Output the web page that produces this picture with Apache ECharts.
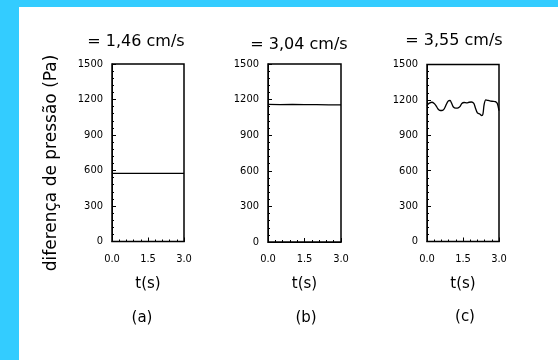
<!DOCTYPE html>
<html>
<head>
<meta charset="utf-8">
<script src="https://cdn.jsdelivr.net/npm/echarts@6/dist/echarts.min.js"></script>
<style>
html,body{margin:0;padding:0;background:#33CCFF;}
#c{width:558px;height:360px;}
</style>
</head>
<body>
<div id="c"></div>
<script>
// ---- data ----
var titles = ['= 1,46 cm/s', '= 3,04 cm/s', '= 3,55 cm/s'];
var panelLabels = ['(a)', '(b)', '(c)'];
var yAxisName = 'diferença de pressão (Pa)';
var xAxisName = 't(s)';
var yTicks = [0, 300, 600, 900, 1200, 1500];
var xTicks = [0, 1.5, 3.0];
var seriesA = [[0, 575], [1.5, 575], [3.0, 575]];
var seriesB = [[0, 1160], [0.5, 1158], [1.0, 1160], [1.5, 1157], [2.0, 1158], [2.5, 1155], [3.0, 1155]];
var seriesC = [[0, 1150], [0.05, 1165], [0.12, 1175], [0.2, 1180], [0.3, 1170], [0.38, 1150], [0.45, 1125],
  [0.55, 1110], [0.65, 1112], [0.72, 1125], [0.8, 1160], [0.88, 1190], [0.96, 1195], [1.02, 1175],
  [1.1, 1140], [1.2, 1130], [1.3, 1132], [1.38, 1145], [1.45, 1170], [1.55, 1178], [1.65, 1175],
  [1.75, 1180], [1.85, 1182], [1.95, 1170], [2.02, 1130], [2.1, 1090], [2.2, 1080], [2.28, 1068],
  [2.33, 1080], [2.38, 1160], [2.45, 1200], [2.55, 1195], [2.65, 1190], [2.75, 1188], [2.85, 1185],
  [2.93, 1170], [3.0, 1110]];
var allSeries = [seriesA, seriesB, seriesC];

// ---- layout ----
var grids = [
  {left: 112, top: 64, width: 72, height: 177.5},
  {left: 268, top: 64, width: 73, height: 178},
  {left: 427, top: 64.5, width: 72, height: 177}
];
var titlePos = [[136, 42], [299, 45], [454, 41]];
var labelPos = [[142, 318], [306, 318], [465, 317]];

var tickFont = {fontFamily: 'DejaVu Sans Condensed, DejaVu Sans', fontSize: 11, color: '#000'};
var textFont = 'DejaVu Sans';

var option = {
  backgroundColor: '#33CCFF',
  animation: false,
  grid: [], xAxis: [], yAxis: [], series: [], title: [],
  graphic: [
    {type: 'rect', shape: {x: 19, y: 7, width: 539, height: 353}, style: {fill: '#fff'}, z: -10},
    {type: 'text', x: 52, y: 163, rotation: Math.PI / 2,
      style: {text: yAxisName, fontFamily: textFont, fontSize: 17, fill: '#000', align: 'center', verticalAlign: 'middle'}}
  ]
};

grids.forEach(function (g, i) {
  option.grid.push({left: g.left, top: g.top, width: g.width, height: g.height,
    show: true, borderColor: '#000', borderWidth: 1.5, backgroundColor: 'transparent'});
  // main x axis (labels, inside ticks + minor)
  option.xAxis.push({
    type: 'value', gridIndex: i, min: 0, max: 3, interval: 1.5,
    name: xAxisName, nameLocation: 'middle', nameGap: 35,
    nameTextStyle: {fontFamily: textFont, fontSize: 15, color: '#000'},
    axisLine: {lineStyle: {color: '#000', width: 1}},
    axisTick: {inside: true, length: 4, lineStyle: {color: '#000'}},
    minorTick: {show: true, splitNumber: 5, length: 2, lineStyle: {color: '#000'}},
    axisLabel: Object.assign({margin: 12, formatter: function (v) { return v.toFixed(1); }}, tickFont),
    splitLine: {show: false}
  });
  // overlay x axis (outside major ticks)
  option.xAxis.push({
    type: 'value', gridIndex: i, min: 0, max: 3, interval: 1.5,
    axisLine: {show: false},
    axisTick: {inside: false, length: 3, lineStyle: {color: '#000'}},
    axisLabel: {show: false}, splitLine: {show: false}
  });
  option.yAxis.push({
    type: 'value', gridIndex: i, min: 0, max: 1500, interval: 300,
    axisLine: {show: true, lineStyle: {color: '#000', width: 1}},
    axisTick: {show: true, inside: true, length: 4, lineStyle: {color: '#000'}},
    minorTick: {show: true, splitNumber: 5, length: 2, lineStyle: {color: '#000'}},
    axisLabel: Object.assign({margin: 9, formatter: function (v) { return String(v); }}, tickFont),
    splitLine: {show: false}
  });
  option.yAxis.push({
    type: 'value', gridIndex: i, min: 0, max: 1500, interval: 300,
    axisLine: {show: false},
    axisTick: {show: true, inside: false, length: 3, lineStyle: {color: '#000'}},
    axisLabel: {show: false}, splitLine: {show: false}
  });
  option.series.push({
    type: 'line', xAxisIndex: i * 2, yAxisIndex: i * 2, data: allSeries[i],
    showSymbol: false, smooth: i === 2 ? 0.3 : false,
    lineStyle: {color: '#000', width: 1.3}
  });
  option.title.push({
    text: titles[i], left: titlePos[i][0], top: titlePos[i][1], textAlign: 'center', textVerticalAlign: 'middle',
    padding: 0,
    textStyle: {fontFamily: textFont, fontSize: 16, fontWeight: 'normal', color: '#000'}
  });
  option.graphic.push({type: 'text', x: labelPos[i][0], y: labelPos[i][1],
    style: {text: panelLabels[i], fontFamily: textFont, fontSize: 15, fill: '#000', align: 'center', verticalAlign: 'middle'}});
});

var chart = echarts.init(document.getElementById('c'), null, {renderer: 'canvas'});
chart.setOption(option);
</script>
</body>
</html>
